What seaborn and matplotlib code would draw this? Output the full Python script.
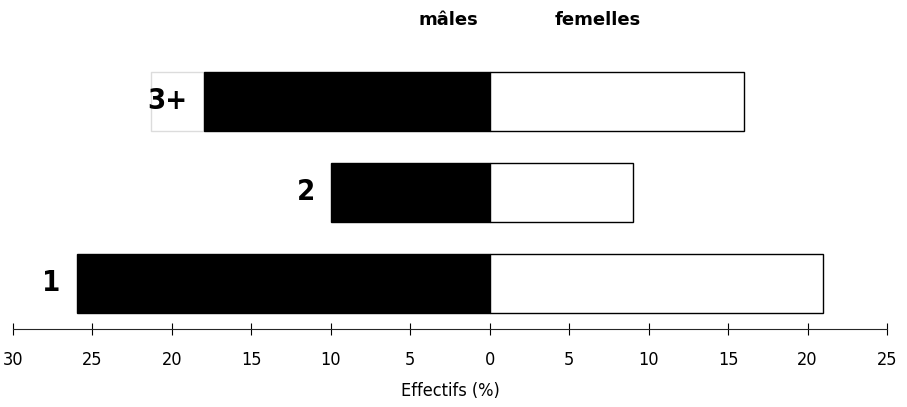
import numpy as np
import pandas as pd
import matplotlib
matplotlib.use("Agg")
import matplotlib.pyplot as plt
import seaborn as sns

# classes d'age (du haut vers le bas) et effectifs en %
ages = ["3+", "2", "1"]
males = [18, 10, 26]
femelles = [16, 9, 21]
xticks = [-30, -25, -20, -15, -10, -5, 0, 5, 10, 15, 20, 25]

df = pd.DataFrame({
    "age": ages * 2,
    "sexe": ["mâles"] * 3 + ["femelles"] * 3,
    "effectif": [-v for v in males] + femelles,
})

sns.set_style("white")
plt.rcParams["font.family"] = ["DejaVu Sans"]
plt.rcParams["text.color"] = "black"
plt.rcParams["xtick.color"] = "black"
plt.rcParams["axes.labelcolor"] = "black"

fig = plt.figure(figsize=(9.07, 4.07), dpi=100)
ax = fig.add_axes([13 / 907, 78 / 407, 874 / 907, 1 - 78 / 407])

sns.barplot(data=df, x="effectif", y="age", hue="sexe", order=ages,
            dodge=False, width=0.65, orient="h",
            palette={"mâles": "black", "femelles": "white"},
            edgecolor="black", linewidth=1, legend=False, ax=ax)

# faint frame around the "3+" label, as in the scan
ax.barh(0, -3.3, left=-males[0], height=0.65, color="white",
        edgecolor="#dcdcdc", linewidth=1, zorder=0)

for i, (a, m) in enumerate(zip(ages, males)):
    ax.text(-m - 1.0, i, a, ha="right", va="center", fontsize=21,
            fontweight="bold", fontstretch="condensed")

ax.set_xlim(-30, 25)
ax.set_ylim(2.5, -1.115)
ax.set_xticks(xticks)
ax.set_xticklabels([str(abs(t)) for t in xticks], fontsize=13,
                   fontstretch="condensed")
ax.set_yticks([])
ax.set_ylabel("")
ax.set_xlabel("Effectifs (%)", fontsize=13, labelpad=9,
              fontstretch="condensed")
ax.tick_params(axis="x", direction="inout", length=8, width=0.8,
               bottom=True, pad=12)
for s in ["top", "right", "left"]:
    ax.spines[s].set_visible(False)
ax.spines["bottom"].set_linewidth(0.8)

ax.text(-2.6, -0.9, "mâles", ha="center", va="center", fontsize=13,
        fontweight="bold")
ax.text(6.8, -0.9, "femelles", ha="center", va="center", fontsize=13,
        fontweight="bold")

fig.savefig("out.png", dpi=100, facecolor="white")
